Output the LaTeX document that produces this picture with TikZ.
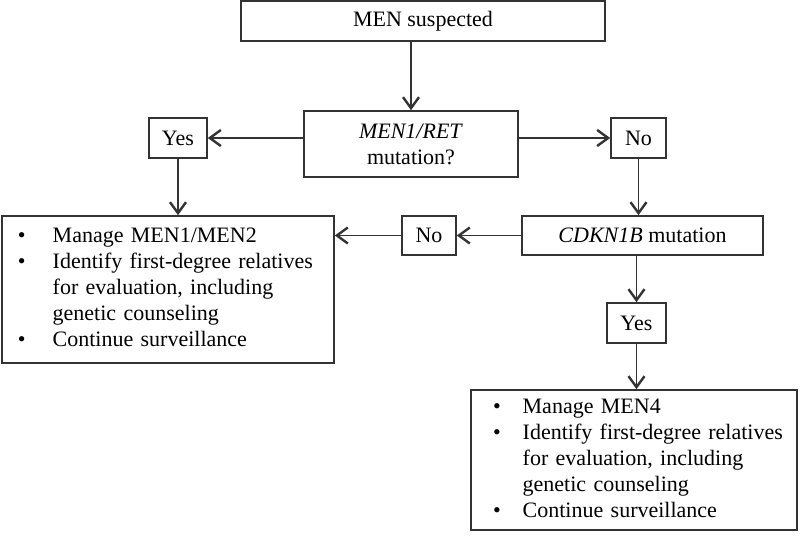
\documentclass[tikz,border=0pt]{standalone}
\usepackage{fontspec}
\setmainfont{Liberation Serif}
\usetikzlibrary{arrows.meta}

\begin{document}
\begin{tikzpicture}[x=0.5pt,y=-0.5pt,font=\fontsize{11}{13}\selectfont,
	box/.style 2 args={draw=black!80,line width=0.8pt,inner sep=0pt,align=center,minimum width=#1,minimum height=#2},
	listbox/.style 2 args={draw=black!80,line width=0.8pt,inner sep=0pt,align=left,text width=#1,minimum height=#2},
	arr/.style={draw=black!80,line width=0.8pt,-{Straight Barb[length=5.5pt,width=8pt,line width=1.2pt]}}]
	\useasboundingbox (0,0) rectangle (800,539);
	\node[box={182pt}{20pt}] (suspect) at (423,21) {MEN suspected};
	\node[box={107pt}{33pt}] (mutq) at (411,144) {\textit{MEN1/RET}\\mutation?};
	\node[box={29pt}{20pt}] (yes1) at (178,138) {Yes};
	\node[box={27.5pt}{20pt}] (no1) at (638.5,138) {No};
	\node[box={120.5pt}{19.5pt}] (cdkn) at (642.5,235.5) {\textit{CDKN1B} mutation};
	\node[box={27pt}{19.5pt}] (no2) at (429,235.5) {No};
	\node[box={29.5pt}{20pt}] (yes2) at (636.5,323) {Yes};
	\node[listbox={166pt}{73.5pt}] (menA) at (168,289.5) {\noindent\begin{tabular}{@{\hspace{8pt}}l@{\hspace{13.5pt}}l@{}}
		\textbullet & Manage MEN1/MEN2\\
		\textbullet & Identify first-degree relatives\\
		& for evaluation, including\\
		& genetic counseling\\
		\textbullet & Continue surveillance
	\end{tabular}};
	\node[listbox={163pt}{70pt}] (menB) at (634,460) {\noindent\begin{tabular}{@{\hspace{11pt}}l@{\hspace{11pt}}l@{}}
		\textbullet & Manage MEN4\\
		\textbullet & Identify first-degree relatives\\
		& for evaluation, including\\
		& genetic counseling\\
		\textbullet & Continue surveillance
	\end{tabular}};
	\draw[arr] (mutq.north |- suspect.south) -- (mutq.north);
	\draw[arr] (mutq.west |- yes1) -- (yes1.east);
	\draw[arr] (mutq.east |- no1) -- (no1.west);
	\draw[arr] (yes1.south) -- (yes1 |- menA.north);
	\draw[arr] (no1.south) -- (no1 |- cdkn.north);
	\draw[arr] (cdkn.west) -- (no2.east);
	\draw[arr] (no2.west) -- (no2 -| menA.east);
	\draw[arr] (cdkn.south -| yes2) -- (yes2.north);
	\draw[arr] (yes2.south) -- (yes2 |- menB.north);
\end{tikzpicture}
\end{document}
